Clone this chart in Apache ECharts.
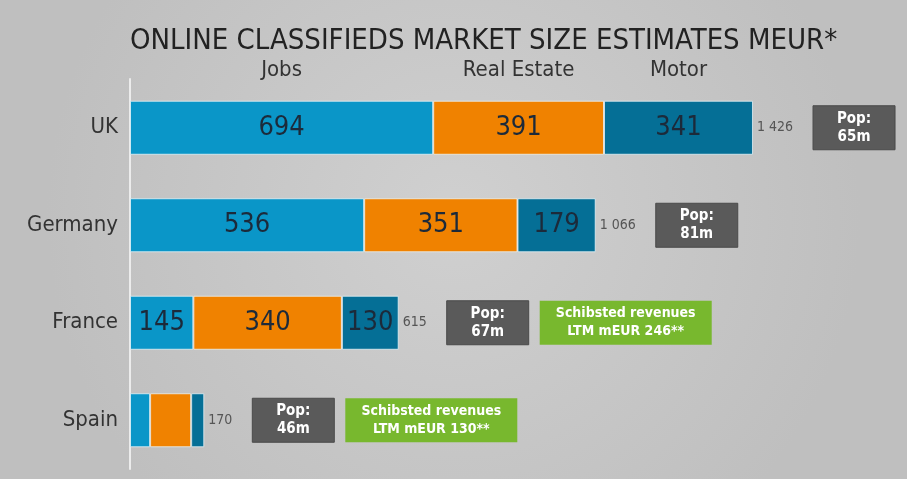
<!DOCTYPE html>
<html>
<head>
<meta charset="utf-8">
<script src="https://cdn.jsdelivr.net/npm/echarts@6/dist/echarts.min.js"></script>
<style>
  html, body { margin: 0; padding: 0; }
  #chart { width: 907px; height: 479px; }
</style>
</head>
<body>
<div id="chart"></div>
<script>
var FONT = '"Liberation Sans Narrow", "DejaVu Sans Condensed", Roboto, sans-serif';

var countries = ['UK', 'Germany', 'France', 'Spain'];
var jobs = [694, 536, 145, 46];
var realEstate = [391, 351, 340, 94];
var motor = [341, 179, 130, 30];
var population = ['65m', '81m', '67m', '46m'];
var revenues = [null, null, 246, 130];
var seriesNames = ['Jobs', 'Real Estate', 'Motor'];

var totals = countries.map(function (c, i) {
    return jobs[i] + realEstate[i] + motor[i];
});

function fmtThousands(v) {
    return String(v).replace(/\B(?=(\d{3})+(?!\d))/g, ' ');
}

var chart = echarts.init(document.getElementById('chart'));

// labels inside the segments, Spain is too small to show them
var insideLabel = {
    show: true,
    position: 'inside',
    color: '#1c2a3a',
    fontSize: 27,
    fontFamily: FONT,
    formatter: function (p) {
        return p.dataIndex === 3 ? '' : p.value;
    }
};

var segStyle = function (color) {
    return { color: color, borderColor: 'rgba(235,245,250,0.75)', borderWidth: 1 };
};

var option = {
    backgroundColor: {
        type: 'radial', x: 0.5, y: 0.45, r: 0.85,
        colorStops: [
            { offset: 0, color: '#d0d0d0' },
            { offset: 1, color: '#bfbfbf' }
        ]
    },
    animation: false,
    title: {
        text: 'ONLINE CLASSIFIEDS MARKET SIZE ESTIMATES MEUR*',
        left: 125,
        top: 22,
        textStyle: { color: '#222', fontSize: 29, fontWeight: 'normal', fontFamily: FONT }
    },
    grid: { left: 130, right: 78, top: 79, bottom: 10 },
    xAxis: {
        type: 'value',
        min: 0,
        max: 1600,
        show: false
    },
    yAxis: {
        type: 'category',
        inverse: true,
        data: countries,
        axisLine: { show: true, lineStyle: { color: '#ececec', width: 2 } },
        axisTick: { show: false },
        axisLabel: { color: '#333', fontSize: 22, fontFamily: FONT, margin: 12 }
    },
    series: [
        { name: 'Jobs', type: 'bar', stack: 's', barWidth: 54, data: jobs,
          itemStyle: segStyle('#0a96c8'), label: insideLabel },
        { name: 'Real Estate', type: 'bar', stack: 's', barWidth: 54, data: realEstate,
          itemStyle: segStyle('#f08200'), label: insideLabel },
        { name: 'Motor', type: 'bar', stack: 's', barWidth: 54, data: motor,
          itemStyle: segStyle('#056f96'), label: insideLabel },
        { name: 'Total', type: 'bar', stack: 's', barWidth: 54,
          data: totals.map(function () { return 0; }),
          itemStyle: { color: 'transparent' },
          label: {
              show: true, position: 'right', distance: 4,
              color: '#555', fontSize: 14, fontFamily: FONT,
              formatter: function (p) { return fmtThousands(totals[p.dataIndex]); }
          }
        }
    ]
};
chart.setOption(option);

// annotations placed from the axes: series names over UK, pop and revenue boxes
var ctx = document.createElement('canvas').getContext('2d');
ctx.font = '14px ' + FONT;

var graphics = [];
var ukStarts = [0, jobs[0], jobs[0] + realEstate[0]];
var ukVals = [jobs[0], realEstate[0], motor[0]];
seriesNames.forEach(function (name, k) {
    var pt = chart.convertToPixel({ gridIndex: 0 }, [ukStarts[k] + ukVals[k] / 2, 0]);
    graphics.push({
        type: 'text', x: pt[0], y: 70,
        style: { text: name, fill: '#333', fontSize: 22, fontFamily: FONT,
                 align: 'center', verticalAlign: 'middle' }
    });
});

countries.forEach(function (c, i) {
    var end = chart.convertToPixel({ gridIndex: 0 }, [totals[i], i]);
    var tw = ctx.measureText(fmtThousands(totals[i])).width;
    var px = end[0] + 5 + tw + 19;
    var cy = end[1];
    graphics.push({
        type: 'group', x: px, y: cy - 22,
        children: [
            { type: 'rect', shape: { x: 0, y: 0, width: 82, height: 44 },
              style: { fill: '#5a5a5a', stroke: '#4a4a4a', lineWidth: 1 } },
            { type: 'text', x: 41, y: 22,
              style: { text: 'Pop:\n' + population[i], fill: '#fff', fontSize: 15,
                       fontWeight: 'bold', fontFamily: FONT, lineHeight: 18,
                       align: 'center', verticalAlign: 'middle' } }
        ]
    });
    if (revenues[i] !== null) {
        graphics.push({
            type: 'group', x: px + 93, y: cy - 22,
            children: [
                { type: 'rect', shape: { x: 0, y: 0, width: 172, height: 44 },
                  style: { fill: '#78b82e' } },
                { type: 'text', x: 86, y: 22,
                  style: { text: 'Schibsted revenues\nLTM mEUR ' + revenues[i] + '**',
                           fill: '#fff', fontSize: 14, fontWeight: 'bold', fontFamily: FONT,
                           lineHeight: 18, align: 'center', verticalAlign: 'middle' } }
            ]
        });
    }
});

chart.setOption({ graphic: graphics });
</script>
</body>
</html>
